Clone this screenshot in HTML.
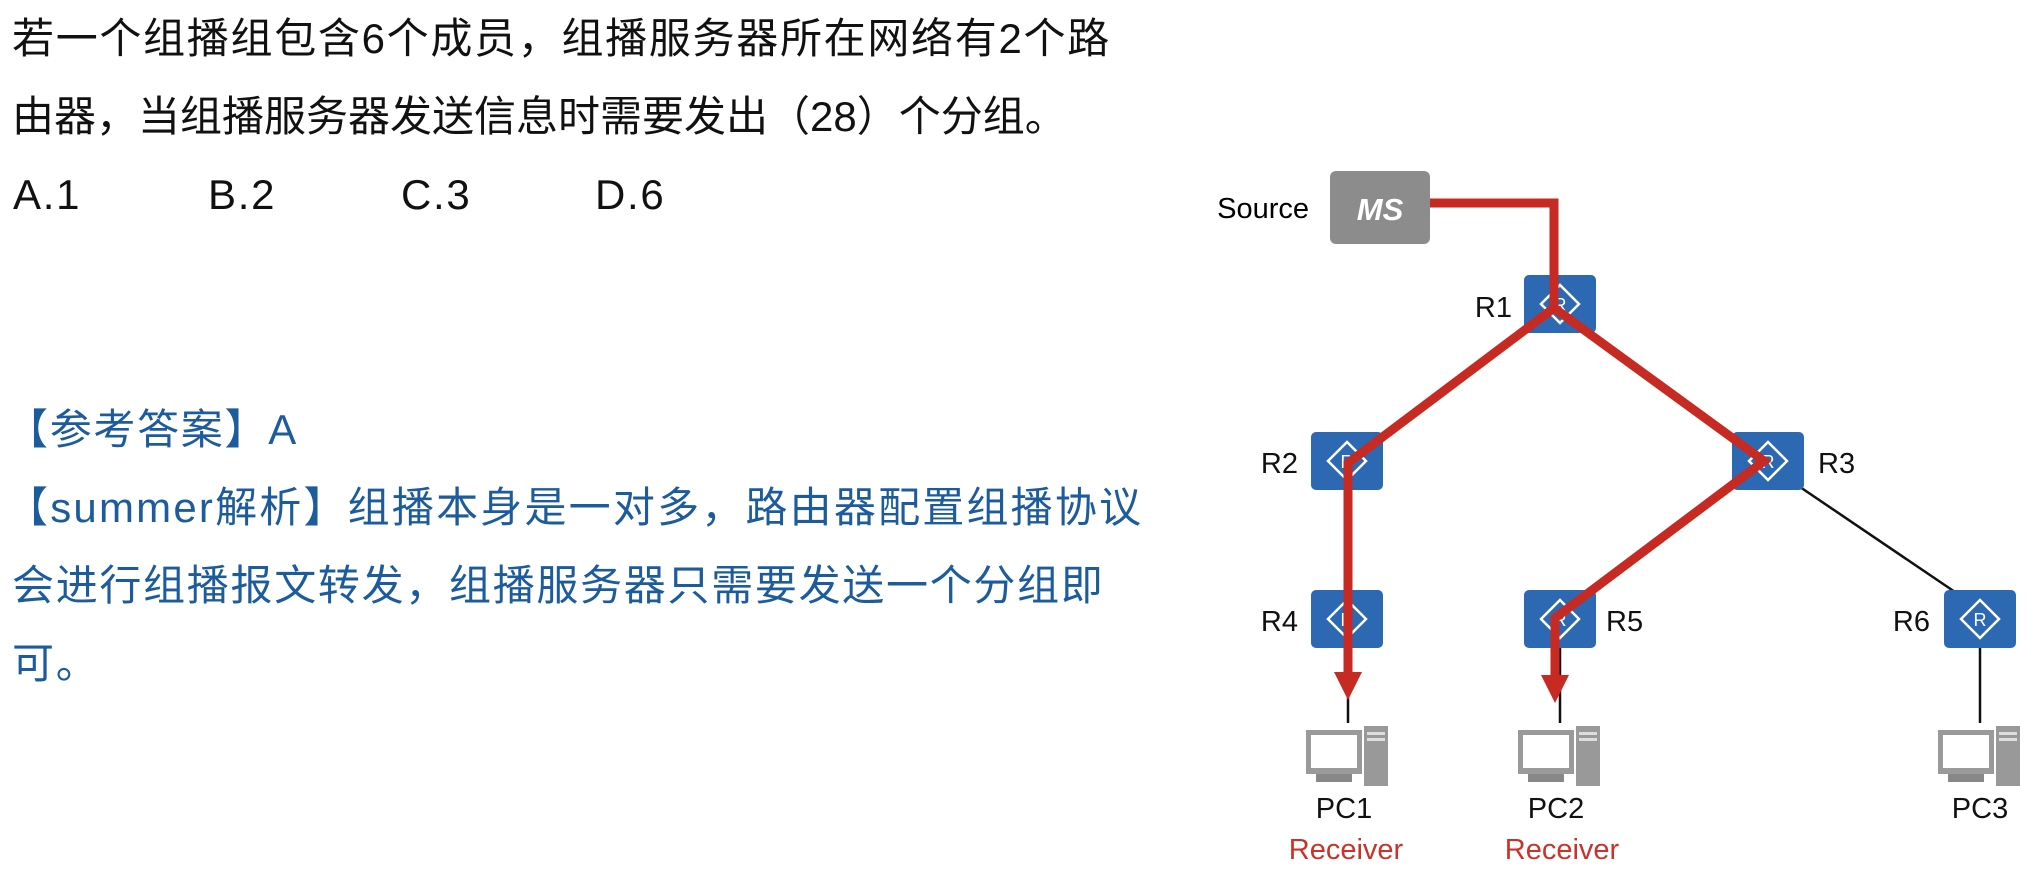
<!DOCTYPE html>
<html><head><meta charset="utf-8"><style>
body{margin:0;width:2042px;height:879px;background:#fff;position:relative;overflow:hidden;font-family:"Liberation Sans","Noto Sans CJK SC",sans-serif}
.t{position:absolute;white-space:nowrap;font-size:42px;line-height:50px;color:#111;letter-spacing:1.7px}
.b{color:#1d5c9c}
</style></head><body>
<div class="t" style="left:12px;top:14px;letter-spacing:1.7px">若一个组播组包含6个成员，组播服务器所在网络有2个路</div>
<div class="t" style="left:12px;top:92px;letter-spacing:0px">由器，当组播服务器发送信息时需要发出（28）个分组。</div>
<div class="t" style="left:13px;top:170px">A.1</div>
<div class="t" style="left:208px;top:170px">B.2</div>
<div class="t" style="left:401px;top:170px">C.3</div>
<div class="t" style="left:595px;top:170px">D.6</div>
<div class="t b" style="left:6px;top:405px">【参考答案】A</div>
<div class="t b" style="left:6px;top:483px;letter-spacing:2.2px">【summer解析】组播本身是一对多，路由器配置组播协议</div>
<div class="t b" style="left:12px;top:561px;letter-spacing:1.7px">会进行组播报文转发，组播服务器只需要发送一个分组即</div>
<div class="t b" style="left:12px;top:639px">可。</div>
<svg width="2042" height="879" style="position:absolute;left:0;top:0" font-family="Liberation Sans, sans-serif">
<defs>
<g id="rt"><rect x="-36" y="-29" width="72" height="58" rx="5" fill="#2d68b2"/><path d="M0,-19 L19,0 L0,19 L-19,0Z" fill="none" stroke="#fff" stroke-width="2.5"/><text x="0" y="7" font-size="18" fill="#fff" text-anchor="middle">R</text></g>
<g id="pc"><rect x="-42" y="0" width="56" height="44" fill="#9a9a9a"/><rect x="-37" y="5" width="46" height="33" fill="#fff"/><rect x="-32" y="44" width="36" height="8" fill="#888"/><rect x="16" y="-4" width="24" height="60" fill="#999"/><rect x="19" y="2" width="18" height="3" fill="#ddd"/><rect x="19" y="8" width="18" height="3" fill="#ddd"/></g>
</defs>
<g stroke="#111" stroke-width="2.5"><line x1="1348" y1="648" x2="1348" y2="723"/><line x1="1560" y1="648" x2="1560" y2="723"/><line x1="1980" y1="648" x2="1980" y2="723"/><line x1="1800" y1="487" x2="1955" y2="592"/></g>
<rect x="1330" y="171" width="100" height="73" rx="6" fill="#8c8c8c"/>
<text x="1380" y="220" font-size="31" font-weight="bold" font-style="italic" fill="#fff" text-anchor="middle">MS</text>
<text x="1309" y="218" font-size="29" text-anchor="end">Source</text>
<use href="#rt" x="1560" y="304"/><use href="#rt" x="1347" y="461"/><use href="#rt" x="1768" y="461"/>
<use href="#rt" x="1347" y="619"/><use href="#rt" x="1560" y="619"/><use href="#rt" x="1980" y="619"/>
<use href="#pc" x="1348" y="730"/><use href="#pc" x="1560" y="730"/><use href="#pc" x="1980" y="730"/>
<g fill="none" stroke="#c62a22" stroke-width="9" stroke-linejoin="miter">
<polyline points="1430,203 1554,203 1554,308 1348,463 1348,675"/>
<polyline points="1554,308 1764,461 1555,618 1555,678"/>
</g>
<path d="M1334,672 L1362,672 L1348,700Z" fill="#c62a22"/>
<path d="M1541,675 L1569,675 L1555,703Z" fill="#c62a22"/>
<g font-size="29" fill="#111">
<text x="1512" y="317" text-anchor="end">R1</text>
<text x="1298" y="473" text-anchor="end">R2</text>
<text x="1818" y="473">R3</text>
<text x="1298" y="631" text-anchor="end">R4</text>
<text x="1606" y="631">R5</text>
<text x="1930" y="631" text-anchor="end">R6</text>
<text x="1344" y="818" text-anchor="middle">PC1</text>
<text x="1556" y="818" text-anchor="middle">PC2</text>
<text x="1980" y="818" text-anchor="middle">PC3</text>
</g>
<g font-size="29" fill="#c8342b" text-anchor="middle"><text x="1346" y="859">Receiver</text><text x="1562" y="859">Receiver</text></g>
</svg>
</body></html>
